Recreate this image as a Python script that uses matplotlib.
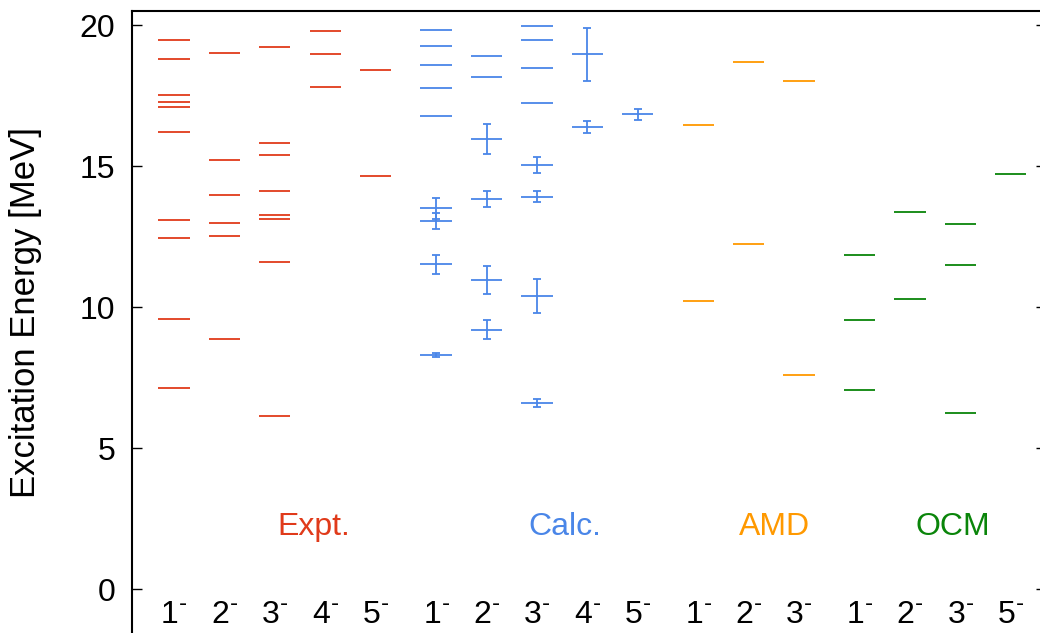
import numpy as np
import matplotlib.pyplot as plt

plt.rcParams['font.family'] = ['Liberation Sans', 'DejaVu Sans']

# spin labels per group
expt_spins = ['1', '2', '3', '4', '5']
calc_spins = ['1', '2', '3', '4', '5']
amd_spins = ['1', '2', '3']
ocm_spins = ['1', '2', '3', '5']

# experimental levels (MeV)
expt_1 = [7.12, 9.59, 12.44, 13.09, 16.20, 17.10, 17.28, 17.51, 18.79, 19.46]
expt_2 = [8.87, 12.53, 12.97, 13.98, 15.20, 19.02]
expt_3 = [6.13, 11.60, 13.13, 13.26, 14.10, 15.41, 15.83, 19.21]
expt_4 = [17.79, 18.98, 19.80]
expt_5 = [14.66, 18.40]

# calculated levels and their error bars (0 = no bar)
calc_1 = [8.31, 11.51, 13.05, 13.50, 16.77, 17.78, 18.58, 19.26, 19.82]
calc_1_err = [0.07, 0.33, 0.27, 0.37, 0, 0, 0, 0, 0]
calc_2 = [9.20, 10.96, 13.84, 15.97, 18.17, 18.92]
calc_2_err = [0.33, 0.48, 0.28, 0.53, 0, 0]
calc_3 = [6.60, 10.39, 13.92, 15.04, 17.23, 18.48, 19.48, 19.96]
calc_3_err = [0.13, 0.61, 0.18, 0.27, 0, 0, 0, 0]
calc_4 = [16.39, 18.96]
calc_4_err = [0.20, 0.95]
calc_5 = [16.84]
calc_5_err = [0.20]

amd_1 = [10.21, 16.47]
amd_2 = [12.24, 18.69]
amd_3 = [7.60, 18.01]

ocm_1 = [7.07, 9.55, 11.84]
ocm_2 = [10.28, 13.36]
ocm_3 = [6.23, 11.49, 12.95]
ocm_5 = [14.72]

c_expt = '#e03a1a'
c_calc = '#4a86e8'
c_amd = '#ff9900'
c_ocm = '#0a850a'

half = 0.31
fs = 23

fig = plt.figure(figsize=(10.4, 6.33), dpi=100)
ax = fig.add_axes([132 / 1040, -0.0196, (1046 - 132) / 1040, 1.0022])


def draw_levels(x, levels, color, errs=None):
    ax.hlines(levels, x - half, x + half, colors=color, lw=1.3)
    if errs is not None:
        lv = np.array(levels)
        er = np.array(errs)
        m = er > 0
        if m.any():
            ax.errorbar(np.full(m.sum(), x), lv[m], yerr=er[m], fmt='none',
                        ecolor=color, elinewidth=1.3, capsize=3, capthick=1.3)


def spin_label(x, s):
    ax.text(x, -0.92, s + r'$^{\text{-}}$', ha='center', va='center', fontsize=fs)


x0 = 1.0
for i, lv in enumerate([expt_1, expt_2, expt_3, expt_4, expt_5]):
    draw_levels(x0 + i, lv, c_expt)
    spin_label(x0 + i, expt_spins[i])

x0 = 6.2
calc = [calc_1, calc_2, calc_3, calc_4, calc_5]
calc_err = [calc_1_err, calc_2_err, calc_3_err, calc_4_err, calc_5_err]
for i, (lv, er) in enumerate(zip(calc, calc_err)):
    draw_levels(x0 + i, lv, c_calc, er)
    spin_label(x0 + i, calc_spins[i])

x0 = 11.4
for i, lv in enumerate([amd_1, amd_2, amd_3]):
    draw_levels(x0 + i, lv, c_amd)
    spin_label(x0 + i, amd_spins[i])

x0 = 14.6
for i, lv in enumerate([ocm_1, ocm_2, ocm_3, ocm_5]):
    draw_levels(x0 + i, lv, c_ocm)
    spin_label(x0 + i, ocm_spins[i])

ax.text(3.77, 2.2, 'Expt.', color=c_expt, ha='center', va='center', fontsize=fs)
ax.text(8.75, 2.2, 'Calc.', color=c_calc, ha='center', va='center', fontsize=fs)
ax.text(12.92, 2.2, 'AMD', color=c_amd, ha='center', va='center', fontsize=fs)
ax.text(16.45, 2.2, 'OCM', color=c_ocm, ha='center', va='center', fontsize=fs)

ax.set_xlim(0.167, 18.3)
ax.set_ylim(-2, 20.5)
ax.set_xticks([])
ax.set_yticks([0, 5, 10, 15, 20])
ax.tick_params(axis='y', direction='in', length=7, width=1, labelsize=fs,
               pad=12, right=True)
for sp in ax.spines.values():
    sp.set_linewidth(1.5)
ax.set_ylabel('Excitation Energy [MeV]', fontsize=25)
ax.yaxis.set_label_coords(-0.0985, 0.525)

fig.savefig('out.png', dpi=100)
